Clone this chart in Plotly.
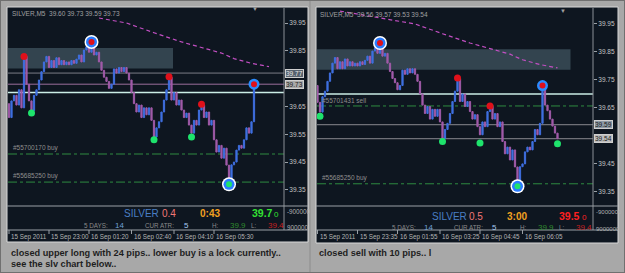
import plotly.graph_objects as go

W, H = 625, 273

# ---------------- data (SILVER M5 bar closes, bar index 0..104) ----------------
closes = [39.61, 39.67, 39.69, 39.655, 39.71, 39.645, 39.83, 39.73, 39.67, 39.635,
          39.69, 39.71, 39.745, 39.775, 39.81, 39.83, 39.79, 39.815, 39.79, 39.825,
          39.80, 39.815, 39.80, 39.81, 39.80, 39.815, 39.805, 39.82, 39.835, 39.81,
          39.853, 39.865, 39.845, 39.875, 39.835, 39.845, 39.81, 39.78, 39.755, 39.74,
          39.715, 39.73, 39.785, 39.77, 39.79, 39.775, 39.79, 39.77, 39.745, 39.70,
          39.66, 39.63, 39.655, 39.61, 39.645, 39.62, 39.645, 39.60, 39.54, 39.573,
          39.595, 39.63, 39.673, 39.71, 39.755, 39.673, 39.70, 39.655, 39.673, 39.637,
          39.61, 39.626, 39.583, 39.554, 39.60, 39.583, 39.637, 39.655, 39.61, 39.63,
          39.583, 39.60, 39.53, 39.486, 39.51, 39.464, 39.50, 39.439, 39.385, 39.44,
          39.45, 39.493, 39.51, 39.50, 39.53, 39.573, 39.554, 39.595, 39.727, 39.66,
          39.64, 39.61, 39.585, 39.56, 39.54]
first_open = 39.66
left_bars = 99  # bars present in the left snapshot

# moving average (dashed magenta)
ma_idx = [17, 24, 36, 47, 58, 69, 77, 85, 90, 97, 104]
ma_val = [39.996, 39.985, 39.968, 39.95, 39.915, 39.882, 39.862, 39.842, 39.822, 39.805, 39.793]
L_ma_start = 36  # first visible MA point in left snapshot

# signal dots
L_red_idx, L_red_val = [6, 64, 77], [39.83, 39.757, 39.658]
L_green_idx, L_green_val = [9, 58, 73], [39.626, 39.53, 39.54]
R_red_idx, R_red_val = [64, 77], [39.757, 39.657]
R_green_idx, R_green_val = [9, 58, 73, 104], [39.62, 39.53, 39.525, 39.522]
top_sig = (33, 39.882)
low_sig = (88, 39.37)
spike_sig = (98, 39.73)

# zone rectangle (price band) and its bar extent per panel
zone_lo, zone_hi = 39.786, 39.86
L_zone_idx = (-5, 65.6)
R_zone_idx = (-5, 109.2)

# horizontal levels
L_levels = [39.77, 39.73, 39.70]
R_levels = [39.70, 39.59, 39.54]
L_orders = [("#55700170 buy", 39.479), ("#55685250 buy", 39.378)]
R_orders = [("#55701431 sell", 39.657), ("#55685250 buy", 39.379)]

# price axis ticks
L_ticks = [39.35, 39.45, 39.55, 39.65, 39.85, 39.95]
R_ticks = [39.35, 39.45, 39.65, 39.75, 39.85, 39.95]
L_boxes = [("39.77", 39.77, "#56626e", "#e8e8e8"), ("39.73", 39.73, "#a8a8a8", "#202020")]
R_boxes = [("39.59", 39.589, "#8d99a4", "#1a1a1a"), ("39.54", 39.539, "#bdbdbd", "#1a1a1a")]

# time axis labels
L_time_idx = [0, 16, 32, 49, 66, 82]
L_time_txt = ["15 Sep 2011", "15 Sep 23:00", "16 Sep 01:20", "16 Sep 02:40", "16 Sep 04:10", "16 Sep 05:30"]
R_time_idx = [8, 24, 40, 57, 73, 90]
R_time_txt = ["15 Sep 2011", "15 Sep 23:35", "16 Sep 01:55", "16 Sep 03:25", "16 Sep 04:45", "16 Sep 06:05"]

# ---------------- styling ----------------
BG = "#a8a8a8"
DARK = "#0e1620"
BLUE = "#3f6fe0"
PURPLE = "#a05aa8"
MAG = "#c24fc2"
RED = "#e0101a"
GREEN = "#1ee36c"
GREENLINE = "#2e8a40"
FONT = "Liberation Sans, Arial, sans-serif"

bar_idx = list(range(len(closes)))
opens = [first_open] + closes[:-1]
highs = [max(o, c) for o, c in zip(opens, closes)]
lows = [min(o, c) for o, c in zip(opens, closes)]


def px(x):
    return x / W


def py(y):
    return 1 - y / H


fig = go.Figure()
shapes = []
ann = []

# ---------- frames / panels (paper) drawn first ----------
for x0, x1, y1 in [(7, 308, 242), (316, 618, 243)]:
    shapes.append(dict(type="rect", xref="paper", yref="paper", x0=px(x0), x1=px(x1), y0=py(y1), y1=py(7),
                       fillcolor=DARK, line=dict(color="#d8d8d8", width=1), layer="below"))

panels = [
    dict(xa="x", ya="y", n=left_bars, red=(L_red_idx, L_red_val), green=(L_green_idx, L_green_val),
         zone=L_zone_idx, levels=L_levels, orders=L_orders, spike=spike_sig, ma_start=L_ma_start),
    dict(xa="x2", ya="y2", n=len(closes), red=(R_red_idx, R_red_val), green=(R_green_idx, R_green_val),
         zone=R_zone_idx, levels=R_levels, orders=R_orders, spike=spike_sig, ma_start=0),
]

level_colors = {0: ["#7b7d86", "#9c6f9c", "#cbeee6"], 1: ["#cbeee6", "#8a8a90", "#8a8a90"]}
level_widths = {0: [1, 1, 1.5], 1: [1.5, 1, 1]}

for k, p in enumerate(panels):
    xa, ya, n = p["xa"], p["ya"], p["n"]
    # levels
    for j, lv in enumerate(p["levels"]):
        shapes.append(dict(type="line", xref=xa + " domain", yref=ya, x0=0, x1=1, y0=lv, y1=lv,
                           line=dict(color=level_colors[k][j], width=level_widths[k][j]), layer="below"))
    for txt, lv in p["orders"]:
        shapes.append(dict(type="line", xref=xa + " domain", yref=ya, x0=0, x1=1, y0=lv, y1=lv,
                           line=dict(color=GREENLINE, width=1, dash="dashdot"), layer="below"))
        ann.append(dict(xref=xa + " domain", yref=ya, x=0.012, y=lv, text=txt, showarrow=False,
                        xanchor="left", yanchor="bottom", yshift=0,
                        font=dict(size=6.5, color="#8e8e8e", family=FONT)))
    # zone rectangle
    shapes.append(dict(type="rect", xref=xa, yref=ya, x0=p["zone"][0], x1=p["zone"][1],
                       y0=zone_lo, y1=zone_hi, fillcolor="#33444f", line=dict(width=0), layer="below"))

    fig.add_trace(go.Candlestick(
        x=bar_idx[:n], open=opens[:n], high=highs[:n], low=lows[:n], close=closes[:n],
        xaxis=xa, yaxis=ya, whiskerwidth=0, hoverinfo="skip",
        increasing=dict(line=dict(color=BLUE, width=1), fillcolor=BLUE),
        decreasing=dict(line=dict(color=PURPLE, width=1), fillcolor=PURPLE)))
    mx = [i for i in ma_idx if i >= p["ma_start"]]
    my = [v for i, v in zip(ma_idx, ma_val) if i >= p["ma_start"]]
    fig.add_trace(go.Scatter(x=mx, y=my, mode="lines", xaxis=xa, yaxis=ya,
                             line=dict(color=MAG, width=1.2, dash="4px,3px"), hoverinfo="skip"))
    # signal dots
    fig.add_trace(go.Scatter(x=p["red"][0], y=p["red"][1], mode="markers", xaxis=xa, yaxis=ya,
                             marker=dict(size=7, color=RED), hoverinfo="skip"))
    fig.add_trace(go.Scatter(x=p["green"][0], y=p["green"][1], mode="markers", xaxis=xa, yaxis=ya,
                             marker=dict(size=7, color=GREEN), hoverinfo="skip"))
    # big circles
    for (ix, v), center in [(top_sig, RED), (low_sig, GREEN)]:
        for size, col in [(14, "#ffffff"), (11, "#2a7cff"), (6, center)]:
            fig.add_trace(go.Scatter(x=[ix], y=[v], mode="markers", xaxis=xa, yaxis=ya,
                                     marker=dict(size=size, color=col), hoverinfo="skip"))
    for size, col in [(11, "#2a8cff"), (6, RED)]:
        fig.add_trace(go.Scatter(x=[p["spike"][0]], y=[p["spike"][1]], mode="markers", xaxis=xa, yaxis=ya,
                                 marker=dict(size=size, color=col), hoverinfo="skip"))

for ax_x, x0, x1 in [(284, 7, 308), (593, 316, 618)]:
    shapes.append(dict(type="line", xref="paper", yref="paper", x0=px(ax_x), x1=px(ax_x), y0=py(230), y1=py(8),
                       line=dict(color="#8a8f96", width=1)))
    for yy in (206, 230):
        shapes.append(dict(type="line", xref="paper", yref="paper", x0=px(x0), x1=px(x1), y0=py(yy), y1=py(yy),
                           line=dict(color="#9aa0a6", width=1)))
shapes.append(dict(type="line", xref="paper", yref="paper", x0=px(310), x1=px(310), y0=0, y1=1,
                   line=dict(color="#8c8c8c", width=1)))
shapes.append(dict(type="rect", xref="paper", yref="paper", x0=0, x1=1, y0=0, y1=1,
                   line=dict(color="#707070", width=2)))

# price label boxes
for boxes, xleft, ya in [(L_boxes, 285, "y"), (R_boxes, 594, "y2")]:
    for txt, lv, bg, fg in boxes:
        ann.append(dict(xref="paper", yref=ya, x=px(xleft), y=lv, text=txt, showarrow=False,
                        xanchor="left", yanchor="middle", bgcolor=bg, borderpad=0,
                        bordercolor="#cfcfcf", borderwidth=1,
                        font=dict(size=6.5, color=fg, family=FONT)))

# time axis ticks + labels
for idxs, txts, xa in [(L_time_idx, L_time_txt, "x"), (R_time_idx, R_time_txt, "x2")]:
    for ix, t in zip(idxs, txts):
        shapes.append(dict(type="line", xref=xa, yref="paper", x0=ix, x1=ix, y0=py(234), y1=py(230),
                           line=dict(color="#9aa0a6", width=1)))
        ann.append(dict(xref=xa, yref="paper", x=ix, y=py(237), text=t, showarrow=False,
                        xanchor="left", yanchor="middle", xshift=0,
                        font=dict(size=6.3, color="#b4b4b4", family=FONT)))

# chart titles
ann.append(dict(xref="paper", yref="paper", x=px(10), y=py(13), text="SILVER,M5  39.60 39.73 39.59 39.73",
                showarrow=False, xanchor="left", yanchor="middle", font=dict(size=6.5, color="#a0a0a0", family=FONT)))
ann.append(dict(xref="paper", yref="paper", x=px(318), y=py(14), text="SILVER,M5  39.56 39.57 39.53 39.54",
                showarrow=False, xanchor="left", yanchor="middle", font=dict(size=6.5, color="#a0a0a0", family=FONT)))
for x, y in [(255, 9), (563, 11)]:
    ann.append(dict(xref="paper", yref="paper", x=px(x), y=py(y), text="▼", showarrow=False,
                    xanchor="center", yanchor="middle", font=dict(size=6, color="#a0a0a0", family=FONT)))


def info(x, y, t, col, size=9.5, bold=False):
    ann.append(dict(xref="paper", yref="paper", x=px(x), y=py(y), text=("<b>%s</b>" % t) if bold else t,
                    showarrow=False, xanchor="left", yanchor="middle",
                    font=dict(size=size, color=col, family=FONT)))


# info panel left
info(122, 213, "SILVER", "#4a7fc4", 10)
info(160, 213, "0.4", "#f07676", 10)
info(198, 213, "0:43", "#f0a020", 10, True)
info(250, 213, "39.7", "#33e033", 10.5, True)
info(272, 214, "0", "#33e033", 8)
info(82, 225, "5 DAYS:", "#8a8a8a", 6.3)
info(113, 225, "14", "#6f9fd4", 8)
info(143, 225, "CUR ATR:", "#8a8a8a", 6.3)
info(182, 225, "5", "#a6cbf2", 8)
info(210, 225, "H:", "#8a8a8a", 6.3)
info(228, 225, "39.9", "#2e8b2e", 8)
info(249, 225, "L:", "#8a8a8a", 6.3)
info(266, 225, "39.4", "#c42020", 8)
info(285, 211, "-900000", "#b0b0b0", 6.3)
info(285, 227, "900000", "#b0b0b0", 6.3)
# info panel right
info(430, 216, "SILVER", "#4a7fc4", 10)
info(467, 216, "0.5", "#f07676", 10)
info(505, 216, "3:00", "#f0a020", 10, True)
info(557, 216, "39.5", "#ff2020", 10.5, True)
info(580, 217, "0", "#ff2020", 8)
info(390, 227, "5 DAYS:", "#8a8a8a", 6.3)
info(422, 227, "14", "#6f9fd4", 8)
info(452, 227, "CUR ATR:", "#8a8a8a", 6.3)
info(490, 227, "5", "#a6cbf2", 8)
info(518, 227, "H:", "#8a8a8a", 6.3)
info(536, 227, "39.9", "#2e8b2e", 8)
info(557, 227, "L:", "#8a8a8a", 6.3)
info(574, 227, "39.4", "#c42020", 8)
info(594, 212, "-9000000", "#b0b0b0", 6)
info(594, 229, "9000000", "#b0b0b0", 6)

# captions
CAP = "Liberation Sans, Arial, sans-serif"
for x, y, t in [(9, 253, "closed upper long with 24 pips.. lower buy is a lock currently.."),
                (9, 264, "see the slv chart below.."),
                (317, 253, "closed sell with 10 pips.. l")]:
    ann.append(dict(xref="paper", yref="paper", x=px(x), y=py(y), text="<b>%s</b>" % t, showarrow=False,
                    xanchor="left", yanchor="middle", font=dict(size=9.2, color="#1e1e1e", family=CAP)))

axis_common = dict(showgrid=False, zeroline=False, fixedrange=True)
fig.update_layout(
    width=W, height=H, margin=dict(l=0, r=0, t=0, b=0),
    paper_bgcolor=BG, plot_bgcolor=DARK, showlegend=False,
    font=dict(family=FONT),
    xaxis=dict(domain=[px(8), px(284)], range=[-0.4, 110], anchor="y", showticklabels=False,
               rangeslider=dict(visible=False), **axis_common),
    yaxis=dict(domain=[py(206), py(8)], range=[39.292, 40.004], anchor="x", side="right",
               tickvals=L_ticks, ticktext=["%.2f" % t for t in L_ticks], ticks="outside", ticklen=3,
               tickcolor="#9aa0a6", tickfont=dict(size=6.5, color="#c4c4c4", family=FONT), **axis_common),
    xaxis2=dict(domain=[px(317), px(593)], range=[7.8, 118.2], anchor="y2", showticklabels=False,
                rangeslider=dict(visible=False), **axis_common),
    yaxis2=dict(domain=[py(207), py(8)], range=[39.296, 40.007], anchor="x2", side="right",
                tickvals=R_ticks, ticktext=["%.2f" % t for t in R_ticks], ticks="outside", ticklen=3,
                tickcolor="#9aa0a6", tickfont=dict(size=6.5, color="#c4c4c4", family=FONT), **axis_common),
    shapes=shapes, annotations=ann,
)

fig.write_html("out.html", config=dict(displayModeBar=False, staticPlot=True))
